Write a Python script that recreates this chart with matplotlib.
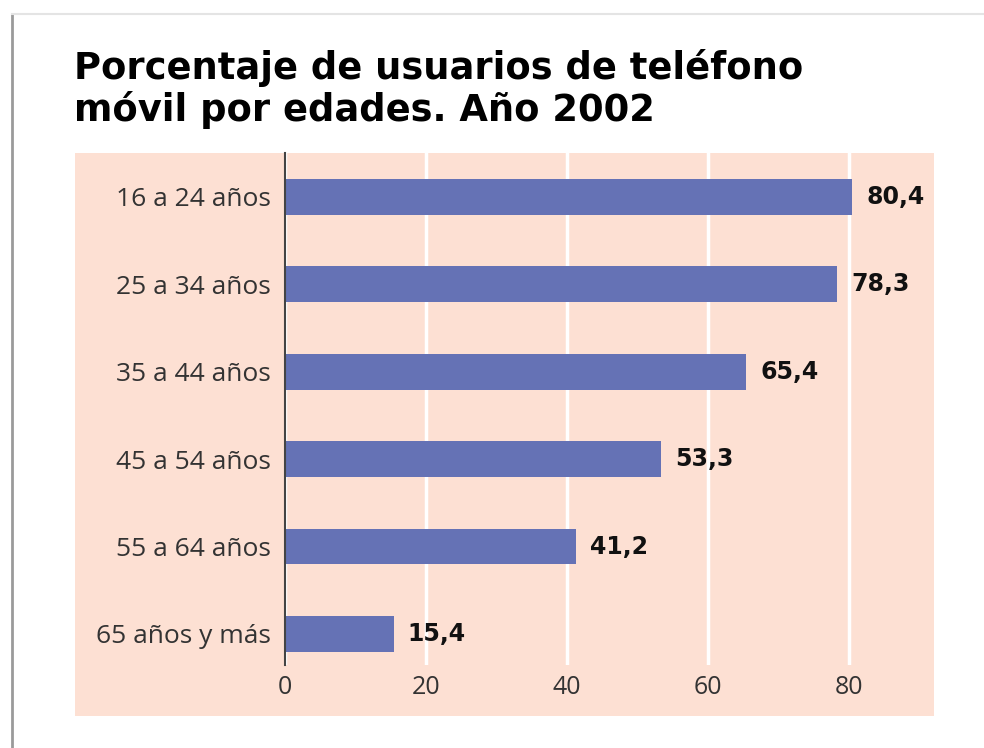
import matplotlib
matplotlib.use('Agg')
import matplotlib.pyplot as plt
from matplotlib.patches import Rectangle
from matplotlib.lines import Line2D

# Datos
categorias = ['16 a 24 años', '25 a 34 años', '35 a 44 años',
              '45 a 54 años', '55 a 64 años', '65 años y más']
porcentajes = [80.4, 78.3, 65.4, 53.3, 41.2, 15.4]
etiquetas = ['80,4', '78,3', '65,4', '53,3', '41,2', '15,4']
ticks_x = [0, 20, 40, 60, 80]

color_fondo = '#fde0d3'
color_barra = '#6572b5'

fig = plt.figure(figsize=(9.84, 7.48), dpi=100)
fig.patch.set_facecolor('white')

# Marco / sombra del recorte
fig.add_artist(Line2D([12/984, 12/984], [0, 1 - 15/748], color='#9a9a9a', lw=2))
fig.add_artist(Line2D([12/984, 1], [1 - 14/748, 1 - 14/748], color='#e4e4e4', lw=1.5))

# Panel rosa
fig.add_artist(Rectangle((75/984, 1 - 716/748), (934 - 75)/984, (716 - 153)/748,
                         facecolor=color_fondo, edgecolor='none', zorder=0))

# Titulo
fig.text(74/984, 1 - 49/748, 'Porcentaje de usuarios de teléfono\nmóvil por edades. Año 2002',
         ha='left', va='top', fontsize=26.6, fontweight='bold',
         family='DejaVu Sans', color='black', linespacing=1.12)

ax = fig.add_axes([285/984, 1 - 665/748, (934 - 285)/984, (665 - 153)/748])
ax.set_facecolor(color_fondo)

pos = list(range(len(categorias)))
ax.barh(pos, porcentajes, height=0.41, color=color_barra, zorder=3)

for p, v, t in zip(pos, porcentajes, etiquetas):
    ax.annotate(t, (v, p), xytext=(10, 0), textcoords='offset points',
                ha='left', va='center', fontsize=17, fontweight='bold',
                family='DejaVu Sans', color='#111111')

ax.set_xlim(0, 92)
ax.set_ylim(5.355, -0.503)
ax.set_xticks(ticks_x)
ax.set_xticklabels([str(t) for t in ticks_x], family='Open Sans', fontsize=18, color='#333333')
ax.set_yticks(pos)
ax.set_yticklabels(categorias, family='Open Sans', fontsize=19, color='#333333')
ax.tick_params(axis='both', length=0)
ax.tick_params(axis='x', pad=7)
ax.tick_params(axis='y', pad=10)

ax.grid(axis='x', color='white', lw=2.5, zorder=1)
ax.set_axisbelow(True)
for s in ['top', 'right', 'bottom']:
    ax.spines[s].set_visible(False)
ax.spines['left'].set_color('#444444')
ax.spines['left'].set_linewidth(1.5)
ax.spines['left'].set_zorder(4)

plt.savefig('out.png', dpi=100)
